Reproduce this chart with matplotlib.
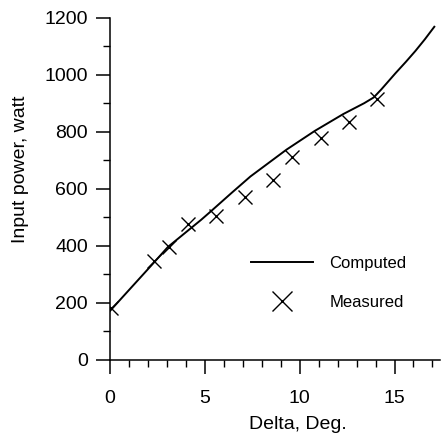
#!/usr/bin/env python3
"""Input power vs. load angle: computed curve and measured points."""

import matplotlib
matplotlib.use("Agg")
import matplotlib.pyplot as plt
from matplotlib.ticker import MultipleLocator

# computed curve
delta_comp = [0.0, 2.2, 3.05, 4.8, 5.3, 6.4, 7.4, 9.3, 10.8, 12.3, 13.4, 13.9, 14.3,
              15.05, 15.6, 16.1, 16.6, 17.1]
power_comp = [172, 333, 396, 491, 520, 585, 643, 737, 803, 862, 900, 920, 948,
              1005, 1045, 1083, 1124, 1168]

# measured points
delta_meas = [0.05, 2.3, 3.1, 4.1, 5.6, 7.1, 8.6, 9.6, 11.1, 12.6, 14.1]
power_meas = [182, 345, 395, 476, 503, 572, 632, 711, 778, 834, 914]

x_ticks = [0, 5, 10, 15]
y_ticks = [0, 200, 400, 600, 800, 1000, 1200]

plt.rcParams["font.family"] = ["Liberation Sans", "DejaVu Sans"]

fig = plt.figure(figsize=(4.44, 4.41), dpi=100)
ax = fig.add_axes([0.248, 0.184, 0.743, 0.776])

ax.plot(delta_comp, power_comp, color="black", lw=1.4, label="Computed")
ax.plot(delta_meas, power_meas, ls="none", marker="x", ms=10, mew=1.0,
        color="black", label="Measured")

ax.set_xlim(0, 17.4)
ax.set_ylim(0, 1200)
ax.set_xticks(x_ticks)
ax.set_yticks(y_ticks)
ax.xaxis.set_minor_locator(MultipleLocator(1))
ax.yaxis.set_minor_locator(MultipleLocator(100))

for side in ["top", "right"]:
    ax.spines[side].set_visible(False)
for side in ["left", "bottom"]:
    ax.spines[side].set_linewidth(1.1)

ax.tick_params(which="major", direction="out", length=10, width=1.1, labelsize=14)
ax.tick_params(which="minor", direction="out", length=5, width=1.0)
ax.tick_params(axis="x", which="major", pad=12)
ax.tick_params(axis="y", which="major", pad=6)

ax.set_xlabel("Delta, Deg.", fontsize=14)
ax.set_ylabel("Input power, watt", fontsize=14)
ax.xaxis.set_label_coords(0.57, -0.165)
ax.yaxis.set_label_coords(-0.245, 0.556)

ax.legend(loc="upper left", bbox_to_anchor=(0.427, 0.303), frameon=False,
          fontsize=12, handlelength=3.7, handletextpad=1.0, labelspacing=1.45,
          borderpad=0, borderaxespad=0, markerscale=1.4)

fig.savefig("out.png", dpi=100)
